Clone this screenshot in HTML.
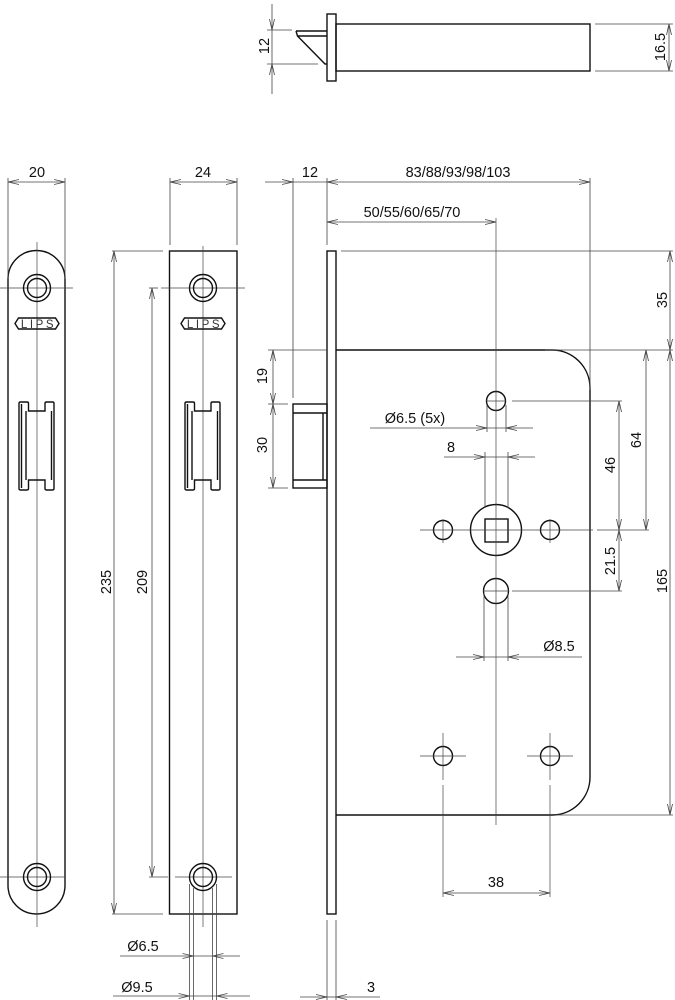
<!DOCTYPE html>
<html><head><meta charset="utf-8"><style>
html,body{margin:0;padding:0;background:#fff;}
svg{display:block;}
text{font-family:"Liberation Sans",Arial,sans-serif;font-size:14.5px;fill:#111;}
.o{fill:none;stroke:#111;stroke-width:1.4;}
.t{fill:none;stroke:#444;stroke-width:0.8;}
.c{fill:none;stroke:#444;stroke-width:0.7;}
</style></head><body>
<svg width="675" height="1000" viewBox="0 0 675 1000" xmlns="http://www.w3.org/2000/svg">
<defs>
<marker id="a" viewBox="0 0 11 6" refX="11" refY="3" markerWidth="11" markerHeight="6" markerUnits="userSpaceOnUse" orient="auto-start-reverse">
<path d="M0,0.5 L11,3 L0,5.5" fill="none" stroke="#444" stroke-width="0.8"/>
</marker>
<g id="keeper">
<path class="o" stroke-width="1.2" d="M19,403.5 Q19,402 20.5,402 L27,402 Q28.5,402 28.5,403.5 L28.5,411 L45,411 L45,403.5 Q45,402 46.5,402 L52.5,402 Q54,402 54,403.5 L54,488.5 Q54,490 52.5,490 L46.5,490 Q45,490 45,488.5 L45,480 L28.5,480 L28.5,488.5 Q28.5,490 27,490 L20.5,490 Q19,490 19,488.5 Z"/>
<line class="o" stroke-width="1" x1="21.5" y1="404" x2="21.5" y2="488"/>
<line class="o" stroke-width="1.2" x1="26" y1="411" x2="26" y2="480"/>
<line class="o" stroke-width="1.2" x1="51.5" y1="411" x2="51.5" y2="480"/>
</g>
<g id="lips">
<polygon class="o" stroke-width="0.8" points="15,323.5 18.5,318 55.5,318 59,323.5 55.5,329 18.5,329"/>
<text x="38.5" y="327.8" text-anchor="middle" style="font-size:11.5px;letter-spacing:2.6px;fill:#333">LIPS</text>
</g>
<g id="hole">
<circle class="o" stroke-width="1.2" cx="0" cy="0" r="13.5"/>
<circle class="o" stroke-width="1.2" cx="0" cy="0" r="9.5"/>
</g>
</defs>

<!-- ============ TOP VIEW ============ -->
<rect class="o" x="327" y="14" width="9" height="67"/>
<rect class="o" x="336" y="24" width="254" height="47"/>
<path class="o" stroke-width="1.2" d="M296,31 L327,31 M296,31 L297.5,36 L327,36 M297.5,36 L325,64 L327,64"/>
<line class="t" x1="267" y1="30" x2="292" y2="30"/>
<line class="t" x1="267" y1="64" x2="318" y2="64"/>
<line class="t" x1="272" y1="4" x2="272" y2="30" marker-end="url(#a)"/>
<line class="t" x1="272" y1="94" x2="272" y2="64" marker-end="url(#a)"/>
<line class="t" x1="272" y1="30" x2="272" y2="64"/>
<text x="265" y="46" text-anchor="middle" dominant-baseline="central" transform="rotate(-90 265 46)">12</text>
<line class="t" x1="595" y1="24" x2="673" y2="24"/>
<line class="t" x1="595" y1="71" x2="673" y2="71"/>
<line class="t" x1="669" y1="24" x2="669" y2="71" marker-start="url(#a)" marker-end="url(#a)"/>
<text x="661" y="47" text-anchor="middle" dominant-baseline="central" transform="rotate(-90 661 47)">16.5</text>

<!-- ============ LEFT STRIKE PLATE ============ -->
<path class="o" d="M8,279 A28.5,28.5 0 0 1 65,279 L65,885.5 A28.5,28.5 0 0 1 8,885.5 Z"/>
<line class="c" x1="37" y1="242" x2="37" y2="927"/>
<line class="c" x1="0" y1="288" x2="73" y2="288"/>
<line class="c" x1="0" y1="877" x2="65" y2="877"/>
<use href="#hole" x="37" y="288"/>
<use href="#hole" x="37" y="877"/>
<use href="#lips" x="0" y="0"/>
<use href="#keeper" x="0" y="0"/>
<line class="t" x1="8" y1="178" x2="8" y2="279"/>
<line class="t" x1="65" y1="178" x2="65" y2="279"/>
<line class="t" x1="8" y1="182" x2="65" y2="182" marker-start="url(#a)" marker-end="url(#a)"/>
<text x="37" y="173" text-anchor="middle" dominant-baseline="central">20</text>

<!-- ============ RIGHT STRIKE PLATE ============ -->
<rect class="o" x="169.5" y="251" width="67.5" height="663"/>
<line class="c" x1="203" y1="246" x2="203" y2="927"/>
<line class="c" x1="161" y1="288" x2="245" y2="288"/>
<line class="c" x1="175" y1="877" x2="232" y2="877"/>
<use href="#hole" x="203" y="288"/>
<use href="#hole" x="203" y="877"/>
<use href="#lips" x="166" y="0"/>
<use href="#keeper" x="166" y="0"/>
<line class="t" x1="170" y1="178" x2="170" y2="245"/>
<line class="t" x1="237" y1="178" x2="237" y2="245"/>
<line class="t" x1="170" y1="182" x2="237" y2="182" marker-start="url(#a)" marker-end="url(#a)"/>
<text x="203" y="173" text-anchor="middle" dominant-baseline="central">24</text>

<!-- 235 / 209 -->
<line class="t" x1="112" y1="251" x2="163" y2="251"/>
<line class="t" x1="112" y1="914" x2="163" y2="914"/>
<line class="t" x1="114" y1="251" x2="114" y2="914" marker-start="url(#a)" marker-end="url(#a)"/>
<text x="107" y="582" text-anchor="middle" dominant-baseline="central" transform="rotate(-90 107 582)">235</text>
<line class="t" x1="149" y1="288" x2="158" y2="288"/>
<line class="t" x1="149" y1="877" x2="168" y2="877"/>
<line class="t" x1="152" y1="288" x2="152" y2="877" marker-start="url(#a)" marker-end="url(#a)"/>
<text x="143" y="582" text-anchor="middle" dominant-baseline="central" transform="rotate(-90 143 582)">209</text>

<!-- Ø6.5 / Ø9.5 -->
<line class="t" x1="189.5" y1="884" x2="189.5" y2="1000"/>
<line class="t" x1="193.5" y1="888" x2="193.5" y2="1000"/>
<line class="t" x1="212.5" y1="888" x2="212.5" y2="1000"/>
<line class="t" x1="216.5" y1="884" x2="216.5" y2="1000"/>
<line class="t" x1="120" y1="956" x2="193.5" y2="956" marker-end="url(#a)"/>
<line class="t" x1="240" y1="956" x2="212.5" y2="956" marker-end="url(#a)"/>
<line class="t" x1="193.5" y1="956" x2="212.5" y2="956"/>
<text x="143" y="947" text-anchor="middle" dominant-baseline="central">Ø6.5</text>
<line class="t" x1="113" y1="996" x2="189.5" y2="996" marker-end="url(#a)"/>
<line class="t" x1="250" y1="996" x2="216.5" y2="996" marker-end="url(#a)"/>
<line class="t" x1="189.5" y1="996" x2="216.5" y2="996"/>
<text x="137" y="988" text-anchor="middle" dominant-baseline="central">Ø9.5</text>

<!-- ============ LOCK BODY ============ -->
<rect class="o" x="327" y="251" width="9" height="663"/>
<path class="o" d="M336,350 L552,350 A38,38 0 0 1 590,388 L590,777 A38,38 0 0 1 552,815 L336,815"/>
<!-- latch bolt -->
<rect class="o" stroke-width="1.2" x="293" y="404" width="34" height="84"/>
<line class="o" stroke-width="1.1" x1="293" y1="413" x2="327" y2="413"/>
<line class="o" stroke-width="1.1" x1="293" y1="480" x2="327" y2="480"/>
<line class="o" stroke-width="1.1" x1="323" y1="413" x2="323" y2="480"/>

<!-- holes -->
<circle class="o" stroke-width="1.2" cx="496" cy="401" r="9.5"/>
<circle class="o" stroke-width="1.3" cx="496" cy="530" r="25.5"/>
<rect class="o" stroke-width="1.3" x="485" y="519" width="23" height="23"/>
<circle class="o" stroke-width="1.2" cx="443" cy="530" r="9.5"/>
<circle class="o" stroke-width="1.2" cx="550" cy="530" r="9.5"/>
<circle class="o" stroke-width="1.2" cx="496" cy="591" r="12.5"/>
<circle class="o" stroke-width="1.2" cx="443" cy="756" r="9.5"/>
<circle class="o" stroke-width="1.2" cx="550" cy="756" r="9.5"/>

<!-- center lines -->
<line class="c" x1="496" y1="218" x2="496" y2="825"/>
<line class="c" x1="420" y1="530" x2="593" y2="530"/>
<line class="c" x1="443" y1="519" x2="443" y2="543"/>
<line class="c" x1="550" y1="519" x2="550" y2="543"/>
<line class="c" x1="486" y1="401" x2="506" y2="401"/>
<line class="c" x1="483" y1="591" x2="509" y2="591"/>
<line class="c" x1="420" y1="756" x2="466" y2="756"/>
<line class="c" x1="527" y1="756" x2="573" y2="756"/>
<line class="c" x1="443" y1="733" x2="443" y2="780"/>
<line class="c" x1="443" y1="785" x2="443" y2="897"/>
<line class="c" x1="550" y1="733" x2="550" y2="780"/>
<line class="c" x1="550" y1="785" x2="550" y2="897"/>

<!-- extension lines lock -->
<line class="t" x1="293" y1="178" x2="293" y2="398"/>
<line class="t" x1="327" y1="178" x2="327" y2="245"/>
<line class="t" x1="590" y1="178" x2="590" y2="390"/>
<line class="t" x1="341" y1="251" x2="673" y2="251"/>
<line class="t" x1="268" y1="350" x2="327" y2="350"/>
<line class="t" x1="545" y1="350" x2="673" y2="350"/>
<line class="t" x1="268" y1="404" x2="288" y2="404"/>
<line class="t" x1="268" y1="488" x2="288" y2="488"/>
<line class="t" x1="512" y1="401" x2="622" y2="401"/>
<line class="t" x1="597" y1="530" x2="649" y2="530"/>
<line class="t" x1="512" y1="591" x2="622" y2="591"/>
<line class="t" x1="556" y1="815" x2="673" y2="815"/>
<line class="t" x1="327" y1="920" x2="327" y2="1000"/>
<line class="t" x1="336" y1="920" x2="336" y2="1000"/>
<line class="t" x1="487" y1="405" x2="487" y2="432"/>
<line class="t" x1="506" y1="405" x2="506" y2="432"/>
<line class="t" x1="485" y1="452" x2="485" y2="508"/>
<line class="t" x1="508" y1="452" x2="508" y2="508"/>
<line class="t" x1="484" y1="593" x2="484" y2="661"/>
<line class="t" x1="508" y1="593" x2="508" y2="661"/>

<!-- dims lock -->
<line class="t" x1="265" y1="182" x2="293" y2="182" marker-end="url(#a)"/>
<line class="t" x1="293" y1="182" x2="327" y2="182"/>
<line class="t" x1="327" y1="182" x2="590" y2="182" marker-start="url(#a)" marker-end="url(#a)"/>
<text x="310" y="173" text-anchor="middle" dominant-baseline="central">12</text>
<text x="458" y="173" text-anchor="middle" dominant-baseline="central">83/88/93/98/103</text>
<line class="t" x1="327" y1="222" x2="496" y2="222" marker-start="url(#a)" marker-end="url(#a)"/>
<text x="412" y="213" text-anchor="middle" dominant-baseline="central">50/55/60/65/70</text>

<line class="t" x1="273" y1="350" x2="273" y2="404" marker-start="url(#a)" marker-end="url(#a)"/>
<line class="t" x1="273" y1="404" x2="273" y2="488" marker-start="url(#a)" marker-end="url(#a)"/>
<text x="263" y="376" text-anchor="middle" dominant-baseline="central" transform="rotate(-90 263 376)">19</text>
<text x="263" y="445" text-anchor="middle" dominant-baseline="central" transform="rotate(-90 263 445)">30</text>

<line class="t" x1="670" y1="251" x2="670" y2="350" marker-start="url(#a)" marker-end="url(#a)"/>
<line class="t" x1="670" y1="350" x2="670" y2="815" marker-start="url(#a)" marker-end="url(#a)"/>
<text x="663" y="300" text-anchor="middle" dominant-baseline="central" transform="rotate(-90 663 300)">35</text>
<text x="663" y="581" text-anchor="middle" dominant-baseline="central" transform="rotate(-90 663 581)">165</text>

<line class="t" x1="646" y1="350" x2="646" y2="530" marker-start="url(#a)" marker-end="url(#a)"/>
<text x="637" y="440" text-anchor="middle" dominant-baseline="central" transform="rotate(-90 637 440)">64</text>
<line class="t" x1="619" y1="401" x2="619" y2="530" marker-start="url(#a)" marker-end="url(#a)"/>
<line class="t" x1="619" y1="530" x2="619" y2="591" marker-start="url(#a)" marker-end="url(#a)"/>
<text x="611" y="465" text-anchor="middle" dominant-baseline="central" transform="rotate(-90 611 465)">46</text>
<text x="611" y="561" text-anchor="middle" dominant-baseline="central" transform="rotate(-90 611 561)">21.5</text>

<line class="t" x1="370" y1="428" x2="487" y2="428" marker-end="url(#a)"/>
<line class="t" x1="533" y1="428" x2="506" y2="428" marker-end="url(#a)"/>
<line class="t" x1="487" y1="428" x2="506" y2="428"/>
<text x="415" y="419" text-anchor="middle" dominant-baseline="central">Ø6.5 (5x)</text>

<line class="t" x1="444" y1="457" x2="485" y2="457" marker-end="url(#a)"/>
<line class="t" x1="535" y1="457" x2="508" y2="457" marker-end="url(#a)"/>
<line class="t" x1="485" y1="457" x2="508" y2="457"/>
<text x="451" y="448" text-anchor="middle" dominant-baseline="central">8</text>

<line class="t" x1="456" y1="657" x2="484" y2="657" marker-end="url(#a)"/>
<line class="t" x1="582" y1="657" x2="508" y2="657" marker-end="url(#a)"/>
<line class="t" x1="484" y1="657" x2="508" y2="657"/>
<text x="559" y="647" text-anchor="middle" dominant-baseline="central">Ø8.5</text>

<line class="t" x1="443" y1="893" x2="550" y2="893" marker-start="url(#a)" marker-end="url(#a)"/>
<text x="496" y="883" text-anchor="middle" dominant-baseline="central">38</text>

<line class="t" x1="300" y1="997" x2="327" y2="997" marker-end="url(#a)"/>
<line class="t" x1="380" y1="997" x2="336" y2="997" marker-end="url(#a)"/>
<line class="t" x1="327" y1="997" x2="336" y2="997"/>
<text x="371" y="988" text-anchor="middle" dominant-baseline="central">3</text>
</svg>
</body></html>
